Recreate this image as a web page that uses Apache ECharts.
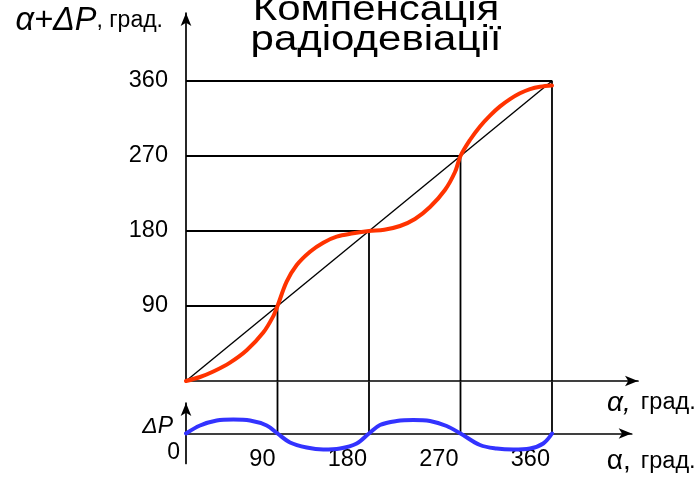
<!DOCTYPE html>
<html>
<head>
<meta charset="utf-8">
<script src="https://cdn.jsdelivr.net/npm/echarts@6/dist/echarts.min.js"></script>
<style>
  html, body { margin: 0; padding: 0; background: #ffffff; }
  #chart { width: 697px; height: 477px; }
</style>
</head>
<body>
<div id="chart"></div>
<script>
// Quadrant bearings, degrees
const quadrantAngles = [90, 180, 270, 360];
const yTickLabels = ['90', '180', '270', '360'];
const xTickLabels = ['90', '180', '270', '360'];
const originLabel = '0';

// Compass reading α+ΔP against bearing α (red curve)
const readingAlpha = [0, 13.8, 26.9, 43.3, 59.7, 76, 85.9, 90, 99, 108.9, 122, 135, 148.2, 164.5, 180,
  195, 210.5, 225.2, 240, 254.7, 264.6, 270, 279.3, 289.2, 299, 308.9, 318.7, 328.5, 338.4, 348.2, 360];
const readingValue = [0, 4.8, 11.4, 22.1, 36.9, 58.1, 77.9, 90, 119.2, 139.2, 155.2, 166, 173.2, 177.2, 180,
  181.5, 186, 194.4, 208.8, 229.2, 250.8, 270, 289.2, 305.5, 318.5, 329.5, 338.2, 345.2, 350.2, 353, 354.5];

// Ideal reading without deviation
const idealAlpha = [0, 360];
const idealValue = [0, 360];

// Radio deviation ΔP (blue curve)
const deviationAlpha = [0, 13.8, 30.2, 46.5, 63, 79.4, 90, 102.3, 118.7, 135, 151.5, 167.9, 180,
  190.8, 207.2, 223.6, 240, 256.4, 270, 289.2, 305.6, 322, 338.4, 351.4, 360];
const deviationValue = [0, 8, 13, 14, 13, 8, 0, -9, -14, -16, -15, -10, 0,
  8.5, 12.5, 13.5, 12.5, 7.5, 0, -11.5, -15, -16, -15, -10, 0];

const FONT = '"Liberation Sans", Arial, sans-serif';
const zip = (a, b) => a.map((v, i) => [v, b[i]]);

const arrowLine = {
  show: true,
  onZero: true,
  symbol: ['none', 'arrow'],
  symbolSize: [8, 13],
  lineStyle: { color: '#000', width: 1.7 }
};

const thin = { color: '#000', width: 1.8 };

// Guide lines: from the α+ΔP axis across to the curve node and down to the α axis
const guideSeries = quadrantAngles.map(v => ({
  type: 'line', xAxisIndex: 0, yAxisIndex: 0,
  data: [[0, v], [v, v], [v, 0]],
  symbol: 'none', silent: true, lineStyle: thin, z: 2
}));
// Continuation of the vertical guides into the ΔP panel
const guideLowSeries = quadrantAngles.map(v => ({
  type: 'line', xAxisIndex: 1, yAxisIndex: 1,
  data: [[v, 0], [v, 52]],
  clip: false,
  symbol: 'none', silent: true, lineStyle: thin, z: 2
}));

const chart = echarts.init(document.getElementById('chart'), null, { renderer: 'canvas' });

chart.setOption({
  animation: false,
  backgroundColor: '#ffffff',
  grid: [
    { left: 186, top: 13, width: 452, height: 368, outerBoundsMode: 'none' },
    { left: 186, top: 403, width: 445.7, height: 60.5, outerBoundsMode: 'none' }
  ],
  xAxis: [
    {
      gridIndex: 0, type: 'value', min: 0, max: 444.6, interval: 90,
      axisLine: arrowLine, axisTick: { show: false }, axisLabel: { show: false },
      splitLine: { show: false },
      name: '{i|α,}{n|град.}', nameLocation: 'end', nameGap: -31, nameMoveOverlap: false,
      nameTextStyle: {
        align: 'left', verticalAlign: 'top', padding: [8, 0, 0, 0],
        rich: {
          i: { fontFamily: FONT, fontStyle: 'italic', fontSize: 28, color: '#000' },
          n: { fontFamily: FONT, fontSize: 23.5, color: '#000', padding: [0, 0, 0, 10] }
        }
      }
    },
    {
      gridIndex: 1, type: 'value', min: 0, max: 438.4, interval: 90,
      axisLine: arrowLine, axisTick: { show: false },
      axisLabel: {
        show: true, margin: -15.5, align: 'right', verticalAlign: 'top', padding: [0, 2, 0, 0],
        fontFamily: FONT, fontSize: 23.5, color: '#000',
        showMinLabel: false, showMaxLabel: false,
        formatter: v => (xTickLabels.includes(String(v)) ? String(v) : '')
      },
      splitLine: { show: false },
      name: '{a|α,}{n|град.}', nameLocation: 'end', nameGap: -25, nameMoveOverlap: false,
      nameTextStyle: {
        align: 'left', verticalAlign: 'top', padding: [14, 0, 0, 0],
        rich: {
          a: { fontFamily: FONT, fontSize: 28, color: '#000' },
          n: { fontFamily: FONT, fontSize: 23.5, color: '#000', padding: [0, 0, 0, 10] }
        }
      }
    }
  ],
  yAxis: [
    {
      gridIndex: 0, type: 'value', min: 0, max: 441.6, interval: 90,
      axisLine: arrowLine, axisTick: { show: false },
      axisLabel: {
        show: true, margin: 18, fontFamily: FONT, fontSize: 23.5, color: '#000',
        showMaxLabel: false,
        formatter: v => (yTickLabels.includes(String(v)) ? String(v) : '')
      },
      splitLine: { show: false },
      name: '{i|α+ΔP}{n|, град.}', nameLocation: 'end', nameGap: -8, nameMoveOverlap: false,
      nameTextStyle: {
        align: 'right', verticalAlign: 'middle', padding: [0, 23, 0, 0],
        rich: {
          i: { fontFamily: FONT, fontStyle: 'italic', fontSize: 32.5, color: '#000' },
          n: { fontFamily: FONT, fontSize: 23, color: '#000' }
        }
      }
    },
    {
      gridIndex: 1, type: 'value', min: -30, max: 30.5, interval: 30,
      axisLine: arrowLine, axisTick: { show: false },
      axisLabel: {
        show: true, margin: 6, verticalAlign: 'top', padding: [8, 0, 0, 0],
        fontFamily: FONT, fontSize: 23, color: '#000',
        showMaxLabel: false,
        formatter: v => (v === 0 ? originLabel : '')
      },
      splitLine: { show: false },
      name: 'ΔP', nameLocation: 'end', nameGap: -24, nameMoveOverlap: false,
      nameTextStyle: {
        align: 'right', verticalAlign: 'middle', padding: [0, 13, 0, 0],
        fontFamily: FONT, fontStyle: 'italic', fontSize: 23, color: '#000'
      }
    }
  ],
  graphic: [
    {
      type: 'text', x: 376, y: 10, scaleX: 1.2, silent: true,
      style: { text: 'Компенсація', fontFamily: FONT, fontSize: 35, fill: '#000', align: 'center', verticalAlign: 'middle' }
    },
    {
      type: 'text', x: 376, y: 40, scaleX: 1.2, silent: true,
      style: { text: 'радіодевіації', fontFamily: FONT, fontSize: 35, fill: '#000', align: 'center', verticalAlign: 'middle' }
    }
  ],
  series: [
    ...guideSeries,
    ...guideLowSeries,
    {
      type: 'line', xAxisIndex: 0, yAxisIndex: 0,
      data: zip(idealAlpha, idealValue),
      symbol: 'none', silent: true,
      lineStyle: { color: '#000', width: 1.4 }, z: 3
    },
    {
      type: 'line', xAxisIndex: 0, yAxisIndex: 0,
      data: zip(readingAlpha, readingValue),
      smooth: 0.35, symbol: 'none', silent: true,
      lineStyle: { color: '#ff3300', width: 4, cap: 'round' }, z: 5
    },
    {
      type: 'line', xAxisIndex: 1, yAxisIndex: 1,
      data: zip(deviationAlpha, deviationValue),
      smooth: 0.35, symbol: 'none', silent: true,
      lineStyle: { color: '#3333ff', width: 4, cap: 'round' }, z: 5
    }
  ]
});
</script>
</body>
</html>
